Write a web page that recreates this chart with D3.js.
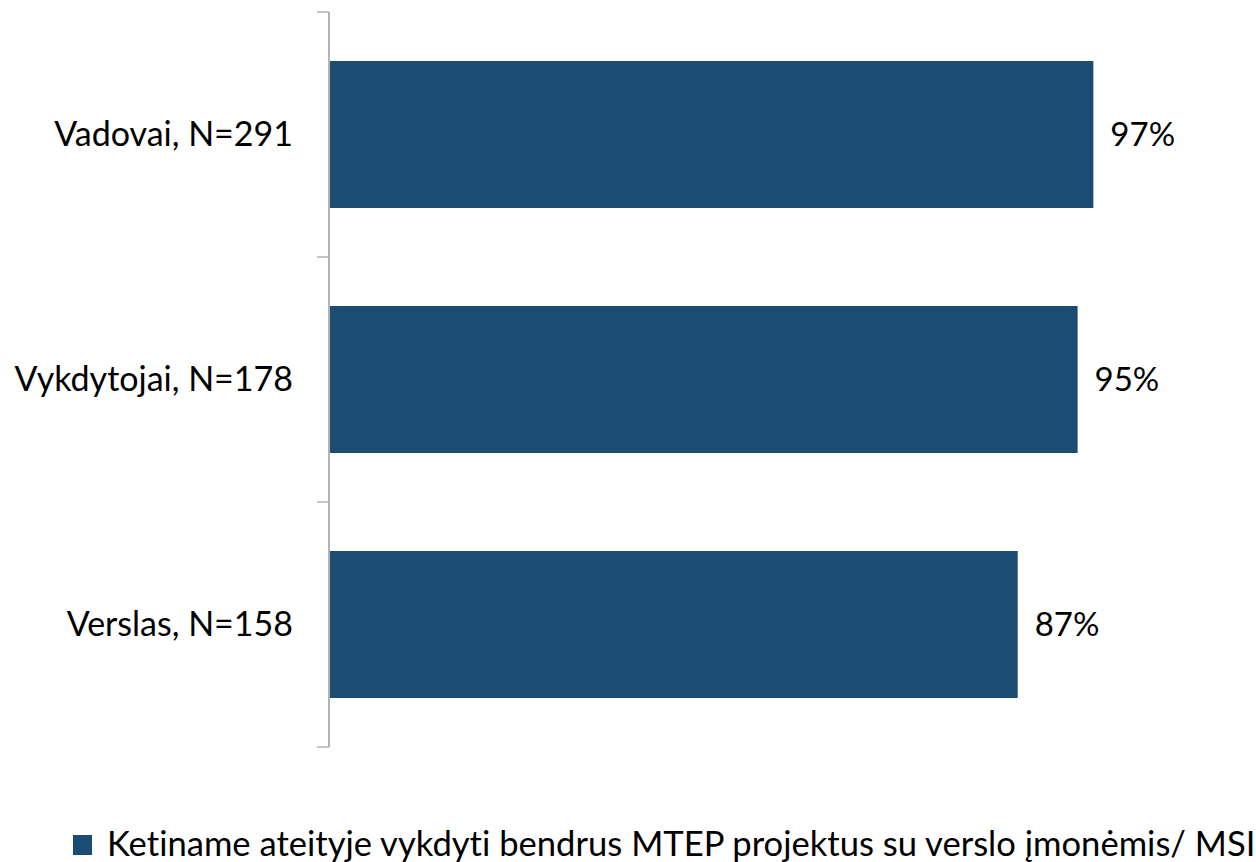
<!DOCTYPE html>
<html>
<head>
<meta charset="utf-8">
<script src="https://cdn.jsdelivr.net/npm/d3@7/dist/d3.min.js"></script>
<style>
html,body{margin:0;padding:0;background:#fff;overflow:hidden;}
svg{display:block;}
text{font-family:Lato,"Open Sans",sans-serif;fill:#000;font-variant-ligatures:none;}
</style>
</head>
<body>
<svg id="chart" width="1256" height="862"></svg>
<script>
const categories = ["Vadovai, N=291", "Vykdytojai, N=178", "Verslas, N=158"];
const values = [0.97, 0.95, 0.874];
const seriesName = "Ketiname ateityje vykdyti bendrus MTEP projektus su verslo įmonėmis/ MSI";

const svg = d3.select("#chart");
const barColor = "#1b4d72";
const axisColor = "#b3b3b3";

const x = d3.scaleLinear().domain([0, 1]).range([329, 1117]);
const y = d3.scaleBand().domain(categories).range([12, 747]).paddingInner(0.4).paddingOuter(0.2);

// bars
svg.selectAll("rect.bar").data(values).enter().append("rect")
  .attr("class", "bar")
  .attr("x", x(0))
  .attr("y", (d, i) => y(categories[i]))
  .attr("width", d => x(d) - x(0))
  .attr("height", y.bandwidth())
  .attr("fill", barColor);

// axis line and ticks
const y0 = y.range()[0], y1 = y.range()[1];
svg.append("line").attr("x1", x(0)).attr("x2", x(0)).attr("y1", y0).attr("y2", y1)
  .attr("stroke", axisColor).attr("stroke-width", 2);
const tickPos = d3.range(categories.length + 1).map(i => y0 + i * y.step());
svg.selectAll("line.tick").data(tickPos).enter().append("line")
  .attr("class", "tick")
  .attr("x1", x(0) - 12).attr("x2", x(0))
  .attr("y1", d => d).attr("y2", d => d)
  .attr("stroke", axisColor).attr("stroke-width", 1.5);

// category labels
svg.selectAll("text.cat").data(categories).enter().append("text")
  .attr("class", "cat")
  .attr("x", 293)
  .attr("y", d => y(d) + y.bandwidth() / 2)
  .attr("dy", "0.35em")
  .attr("text-anchor", "end")
  .style("font-size", "34px")
  .text(d => d);

// value labels
const fmt = d3.format(".0%");
svg.selectAll("text.val").data(values).enter().append("text")
  .attr("class", "val")
  .attr("x", d => x(d) + 17)
  .attr("y", (d, i) => y(categories[i]) + y.bandwidth() / 2)
  .attr("dy", "0.35em")
  .style("font-size", "33px")
  .text(d => fmt(d));

// legend
svg.append("rect").attr("x", 73).attr("y", 835).attr("width", 19).attr("height", 20).attr("fill", barColor);
svg.append("text").attr("x", 107).attr("y", 856)
  .style("font-size", "34.6px")
  .text(seriesName);
</script>
</body>
</html>
